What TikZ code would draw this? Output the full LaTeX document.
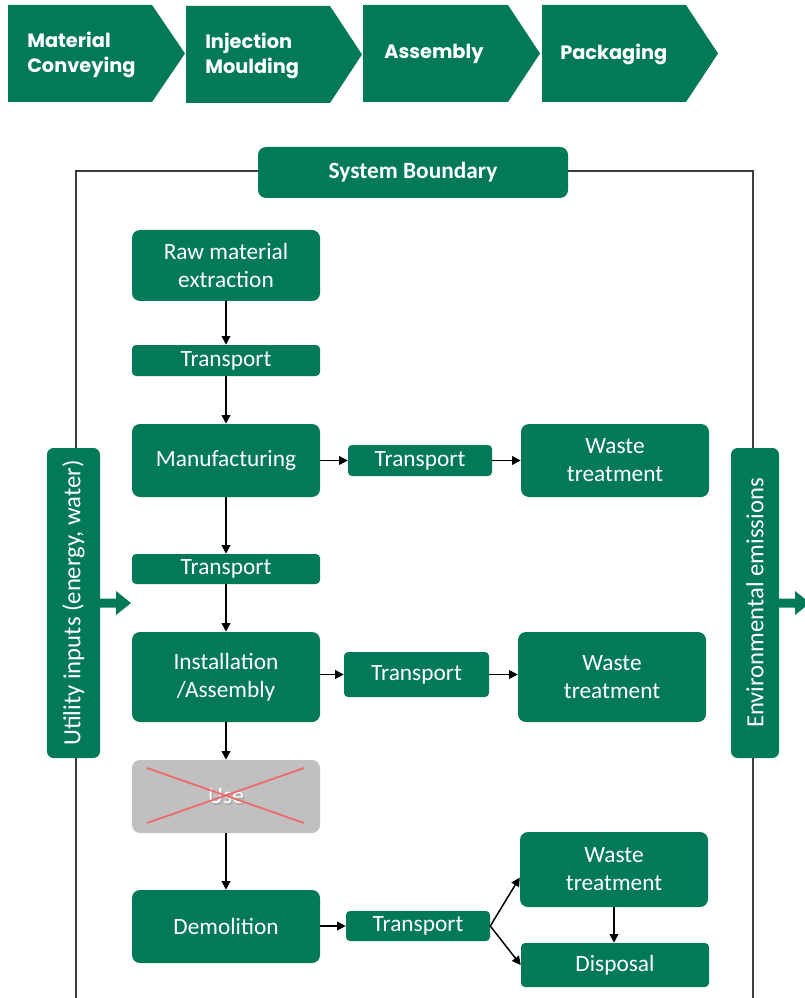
\documentclass[tikz,border=0pt]{standalone}
\usepackage{fontspec}
\setmainfont{Carlito}
\newfontfamily\chevfont{Poppins}
\usetikzlibrary{arrows.meta}
\definecolor{grn}{RGB}{3,122,87}
\definecolor{usegray}{RGB}{192,192,192}
\definecolor{xred}{RGB}{240,108,108}
\definecolor{bline}{RGB}{60,60,60}
\tikzset{
  sz/.style 2 args={minimum width=#1*0.75pt, minimum height=#2*0.75pt},
  box/.style={fill=grn, rounded corners=6pt, inner sep=0pt, text=white, align=center,
    font=\fontsize{17.5}{21}\selectfont},
  tbox/.style={box, rounded corners=3pt},
  vbox/.style={box, rounded corners=5pt},
  vtxt/.style={rotate=90, text=white, inner sep=0pt, font=\fontsize{18.5}{22}\selectfont},
  arr/.style={-{Triangle[length=6.5pt,width=6.5pt]}, line width=1.1pt, black},
  chev/.style={fill=grn},
  chevtxt/.style={anchor=west, align=left, text=white, inner sep=0pt,
    font=\chevfont\bfseries\fontsize{14.5}{18.75}\selectfont},
  bigarrow/.style={fill=grn},
  boundary/.style={draw=bline, line width=1.1pt}
}
\begin{document}
\begin{tikzpicture}[x=0.75pt,y=-0.75pt]
\useasboundingbox (0,0) rectangle (805,998);
\clip (0,0) rectangle (805,998);
\fill[white] (0,0) rectangle (805,998);

% chevrons
\fill[chev] (8,5) -- (152,5) -- (185,53.5) -- (152,102) -- (8,102) -- cycle;
\fill[chev] (186,6) -- (330,6) -- (362,54.5) -- (330,103) -- (186,103) -- cycle;
\fill[chev] (363,5) -- (508,5) -- (540,53.5) -- (508,102) -- (363,102) -- cycle;
\fill[chev] (542,5) -- (686,5) -- (718,53.5) -- (686,102) -- (542,102) -- cycle;
\node[chevtxt] (c1) at (27,54.5) {Material\\Conveying};
\node[chevtxt] (c2) at (205,55.5) {Injection\\Moulding};
\node[chevtxt] (c3) at (384,54) {Assembly};
\node[chevtxt] (c4) at (560,54) {Packaging};

% system boundary lines
\draw[boundary] (76,1000) -- (76,171) -- (300,171);
\draw[boundary] (520,171) -- (753,171) -- (753,1000);
\node[box, sz={310}{51}, font=\bfseries\fontsize{17.5}{21}\selectfont] (sb) at (413,172.5) {System Boundary};

% side boxes
\node[vbox, sz={53}{310}] (util) at (73.5,603) {};
\node[vtxt] (utiltxt) at (util.center) {Utility inputs (energy, water)};
\node[vbox, sz={48}{310}] (env) at (755,603) {};
\node[vtxt] (envtxt) at (env.center) {Environmental emissions};
\fill[bigarrow] (100,598.5) -- (116,598.5) -- (116,591) -- (131,603) -- (116,615) -- (116,607.5) -- (100,607.5) -- cycle;
\fill[bigarrow] (779,598.5) -- (795,598.5) -- (795,591) -- (810,603) -- (795,615) -- (795,607.5) -- (779,607.5) -- cycle;

% main column
\node[box, sz={188}{71}] (raw) at (226,265.5) {Raw material\\extraction};
\node[tbox, sz={188}{31}] (t1) at (226,360.5) {Transport};
\node[box, sz={188}{73}] (man) at (226,460.5) {Manufacturing};
\node[tbox, sz={144}{31}] (tm) at (420,460.5) {Transport};
\node[box, sz={188}{73}] (wm) at (615,460.5) {Waste\\treatment};
\node[tbox, sz={188}{30}] (t2) at (226,569) {Transport};
\node[box, sz={188}{90}] (inst) at (226,677) {Installation\\/Assembly};
\node[tbox, sz={145}{45}] (ti) at (416.5,674.5) {Transport};
\node[box, sz={188}{90}] (wi) at (612,677) {Waste\\treatment};
\node[box, fill=usegray, sz={188}{73}] (use) at (226,796.5) {};
\node[text=gray!70, inner sep=0pt, font=\fontsize{17.5}{21}\selectfont] (useshadow) at (227.3,797.8) {Use};
\node[text=white, inner sep=0pt, font=\fontsize{17.5}{21}\selectfont] (usetxt) at (use.center) {Use};
\draw[xred, line width=1.4pt] (147,768) -- (304,823);
\draw[xred, line width=1.4pt] (147,823) -- (304,768);
\node[box, sz={188}{73}] (dem) at (226,926.5) {Demolition};
\node[tbox, sz={144}{30}] (td) at (418,926) {Transport};
\node[box, sz={188}{75}] (wd) at (614,869.5) {Waste\\treatment};
\node[tbox, sz={188}{44}] (disp) at (615,965) {Disposal};

% connectors
\draw[arr] (raw) -- (t1);
\draw[arr] (t1) -- (man);
\draw[arr] (man) -- (t2);
\draw[arr] (t2) -- (inst);
\draw[arr] (inst) -- (use);
\draw[arr] (use) -- (dem);
\draw[arr] (man) -- (tm);
\draw[arr] (tm) -- (wm);
\draw[arr] (inst.east |- ti.west) -- (ti.west);
\draw[arr] (ti.east) -- (ti.east -| wi.west);
\draw[arr] (dem.east |- td.west) -- (td.west);
\draw[arr] (td.east) -- ([yshift=-6pt]wd.west);
\draw[arr] (td.east) -- (disp.west);
\draw[arr] (wd.south) -- (wd.south |- disp.north);
\end{tikzpicture}
\end{document}
